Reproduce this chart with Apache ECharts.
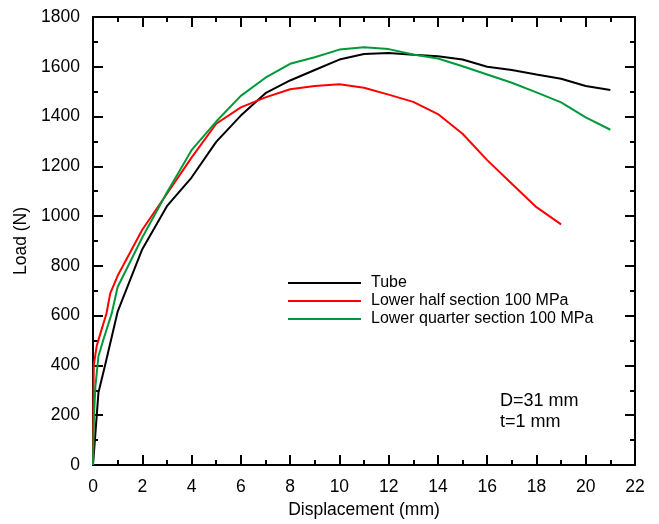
<!DOCTYPE html>
<html>
<head>
<meta charset="utf-8">
<script src="https://cdn.jsdelivr.net/npm/echarts@6/dist/echarts.min.js"></script>
<style>html,body{margin:0;padding:0;background:#fff;}#chart{width:659px;height:524px;}</style>
</head>
<body>
<div id="chart"></div>
<script>
var seriesNames = ['Tube', 'Lower half section 100 MPa', 'Lower quarter section 100 MPa'];
var tubeX = [0, 0.1, 0.22, 0.5, 1, 2, 3, 4, 5, 6, 7, 8, 9, 10, 11, 12, 13, 14, 15, 16, 17, 18, 19, 20, 21];
var tubeY = [0, 130, 290, 405, 616, 867, 1040, 1155, 1298, 1404, 1494, 1545, 1587, 1629, 1651, 1655, 1648, 1642, 1629, 1600, 1587, 1569, 1552, 1523, 1507];
var halfX = [0, 0.03, 0.15, 0.35, 0.55, 0.7, 1, 2, 3, 4, 5, 6, 7, 8, 9, 10, 11, 12, 13, 14, 15, 16, 17, 18, 19];
var halfY = [0, 400, 478, 545, 610, 690, 760, 945, 1090, 1235, 1371, 1437, 1477, 1510, 1523, 1530, 1516, 1488, 1459, 1410, 1331, 1225, 1130, 1036, 967];
var quarterX = [0, 0.04, 0.1, 0.22, 0.42, 0.76, 1, 2, 3, 4, 5, 6, 7, 8, 9, 10, 11, 12, 13, 14, 15, 16, 17, 18, 19, 20, 21];
var quarterY = [0, 200, 318, 437, 503, 609, 715, 914, 1095, 1265, 1380, 1483, 1556, 1612, 1638, 1669, 1678, 1671, 1649, 1633, 1602, 1569, 1536, 1497, 1457, 1397, 1347];
var xTicks = {min: 0, max: 22, interval: 2};
var yTicks = {min: 0, max: 1800, interval: 200};
var annotations = ['D=31 mm', 't=1 mm'];

function pairs(xs, ys) { return xs.map(function (x, i) { return [x, ys[i]]; }); }

var font = 'Arial, Liberation Sans, sans-serif';
function lineAx() { return {show: true, onZero: false, lineStyle: {color: '#000', width: 2}}; }
function tickAx(c) { return {show: true, inside: true, length: 10, lineStyle: {color: c, width: 2}}; }
function minorAx(c) { return {show: true, splitNumber: 2, length: 5, lineStyle: {color: c, width: 2}}; }
function hiddenSplit() { return {show: true, lineStyle: {color: 'rgba(0,0,0,0)', width: 0}}; }

var chart = echarts.init(document.getElementById('chart'), null, {renderer: 'canvas'});
chart.setOption({
  animation: false,
  backgroundColor: '#fff',
  grid: {left: 93, right: 24, top: 17, bottom: 54, containLabel: false},
  legend: {
    orient: 'vertical', left: 283, top: 270, icon: 'rect', itemWidth: 73, itemHeight: 2, itemGap: 2,
    textStyle: {fontFamily: font, fontSize: 16, color: '#000', padding: [0, 0, 0, 5]},
    data: seriesNames
  },
  graphic: [
    {type: 'text', left: 500, top: 392, style: {text: annotations[0], font: '18px ' + font, fill: '#000'}},
    {type: 'text', left: 500, top: 413, style: {text: annotations[1], font: '18px ' + font, fill: '#000'}}
  ],
  xAxis: [
    {type: 'value', min: xTicks.min, max: xTicks.max, interval: xTicks.interval, position: 'bottom',
      name: 'Displacement (mm)', nameLocation: 'middle', nameGap: 36,
      nameTextStyle: {fontFamily: font, fontSize: 17.5, color: '#000'},
      axisLabel: {fontFamily: font, fontSize: 17.5, color: '#000', margin: 13},
      splitLine: hiddenSplit(),
      axisLine: lineAx(), axisTick: tickAx('#000'), minorTick: minorAx('#000')},
    {type: 'value', min: xTicks.min, max: xTicks.max, interval: xTicks.interval, position: 'top',
      axisLabel: {show: false}, splitLine: {show: false},
      axisLine: lineAx(), axisTick: tickAx('#010101'), minorTick: minorAx('#010101')}
  ],
  yAxis: [
    {type: 'value', min: yTicks.min, max: yTicks.max, interval: yTicks.interval, position: 'left',
      name: 'Load (N)', nameLocation: 'middle', nameGap: 62,
      nameTextStyle: {fontFamily: font, fontSize: 17.5, color: '#000'},
      axisLabel: {fontFamily: font, fontSize: 17.5, color: '#000', margin: 13,
        formatter: function (v) { return String(v); }},
      splitLine: {show: false},
      axisLine: lineAx(), axisTick: tickAx('#000'), minorTick: minorAx('#000')},
    {type: 'value', min: yTicks.min, max: yTicks.max, interval: yTicks.interval, position: 'right',
      axisLabel: {show: false}, splitLine: hiddenSplit(),
      axisLine: lineAx(), axisTick: tickAx('#010101'), minorTick: minorAx('#010101')}
  ],
  series: [
    {name: seriesNames[0], type: 'line', data: pairs(tubeX, tubeY), showSymbol: false,
      lineStyle: {color: '#000', width: 2}, itemStyle: {color: '#000'}},
    {name: seriesNames[1], type: 'line', data: pairs(halfX, halfY), showSymbol: false,
      lineStyle: {color: '#ff0000', width: 2}, itemStyle: {color: '#ff0000'}},
    {name: seriesNames[2], type: 'line', data: pairs(quarterX, quarterY), showSymbol: false,
      lineStyle: {color: '#00993a', width: 2}, itemStyle: {color: '#00993a'}}
  ]
});
</script>
</body>
</html>
